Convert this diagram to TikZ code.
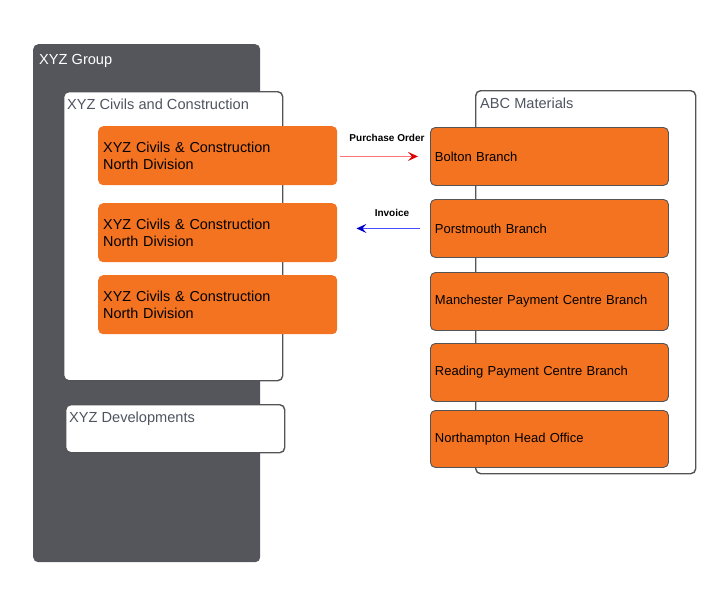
\documentclass[tikz,border=0pt]{standalone}
\usepackage{fontspec}
\setmainfont{Liberation Sans}
\usetikzlibrary{arrows.meta}
\definecolor{grp}{HTML}{55565B}
\definecolor{org}{HTML}{F47321}
\definecolor{bord}{HTML}{545457}
\definecolor{ttl}{HTML}{4F5560}
\tikzset{
  group/.style={fill=grp, draw=none, rounded corners=5pt, anchor=north west, inner sep=0pt},
  container/.style={fill=white, draw=bord, line width=1.4pt, rounded corners=5pt, anchor=north west, inner sep=0pt},
  leftbox/.style={fill=org, draw=none, rounded corners=5pt, anchor=north west, minimum width=239pt, minimum height=59pt, text width=229pt, inner xsep=5pt, align=left, font=\fontsize{14.4}{17}\selectfont, text=black},
  rightbox/.style={fill=org, draw=bord, line width=0.9pt, rounded corners=5pt, anchor=north west, minimum width=238pt, minimum height=58pt, text width=229pt, inner xsep=4.5pt, align=left, font=\fontsize{13}{15}\selectfont, text=black},
  ttlab/.style={anchor=north west, inner sep=0pt, text=ttl, font=\fontsize{14.6}{16}\selectfont},
  msg/.style={font=\bfseries\fontsize{10}{12}\selectfont, inner sep=0pt, text=black},
}
\begin{document}
\begin{tikzpicture}[x=1pt,y=-1pt]
\useasboundingbox (0,0) rectangle (705,600);
% containers
\node[group, minimum width=227pt, minimum height=518pt] (g) at (33,44) {};
\node[anchor=north west, inner sep=0pt, text=white, font=\fontsize{14.6}{16}\selectfont] (gl) at (39,54) {XYZ Group};
\node[container, minimum width=219pt, minimum height=289pt] (civ) at (63,91) {};
\node[ttlab] (civl) at (67,98.5) {XYZ Civils and Construction};
\node[container, minimum width=219pt, minimum height=48pt] (dev) at (65,404) {};
\node[ttlab] (devl) at (69,411.5) {XYZ Developments};
\node[container, minimum width=220pt, minimum height=383pt] (abc) at (475,90) {};
\node[ttlab] (abcl) at (480,97.5) {ABC Materials};
% left boxes
\node[leftbox] (cn1) at (98,126) {XYZ Civils \& Construction\\North Division};
\node[leftbox] (cn2) at (98,203) {XYZ Civils \& Construction\\North Division};
\node[leftbox] (cn3) at (98,275) {XYZ Civils \& Construction\\North Division};
% right boxes
\node[rightbox] (bol) at (430,127) {Bolton Branch};
\node[rightbox] (por) at (430,199) {Porstmouth Branch};
\node[rightbox] (man) at (430,272) {Manchester Payment Centre Branch};
\node[rightbox] (rea) at (430,343) {Reading Payment Centre Branch};
\node[rightbox, minimum height=57pt] (nor) at (430,410) {Northampton Head Office};
% messages
\draw[red!55, line width=1.2pt, -{Stealth[length=10pt, width=9pt, inset=4pt, red!85!black]}]
  ([xshift=3pt]cn1.east |- bol.west) -- ([xshift=-12pt]bol.west);
\node[msg] (po) at (387,138) {Purchase Order};
\draw[blue!70, line width=1.2pt, -{Stealth[length=10pt, width=9pt, inset=4pt, blue!80!black]}]
  ([xshift=-10pt]por.west) -- ([xshift=19pt]cn2.east |- por.west);
\node[msg] (inv) at (392,213) {Invoice};
\end{tikzpicture}
\end{document}
